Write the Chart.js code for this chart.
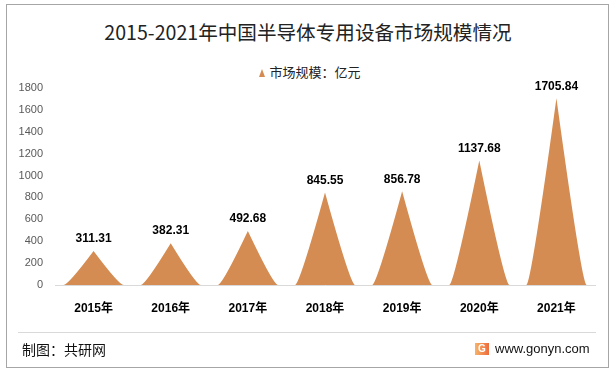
<!DOCTYPE html>
<html>
<head>
<meta charset="utf-8">
<script src="https://cdn.jsdelivr.net/npm/chart.js@4/dist/chart.umd.min.js"></script>
<style>
	html, body { margin: 0; padding: 0; background: #fff; }
	#wrap { position: relative; width: 616px; height: 373px; overflow: hidden; background: #fff; font-family: "Noto Sans CJK SC", "Liberation Sans", sans-serif; }
	#frame { position: absolute; left: 6px; top: 4px; width: 601px; height: 362px; border: 1px solid #a6a6a6; }
	#title { position: absolute; left: 0; width: 616px; top: 18px; text-align: center; font-size: 19.6px; color: #222; line-height: 28px; }
	#legend { position: absolute; left: 2px; width: 616px; top: 62px; text-align: center; font-size: 13px; color: #222; line-height: 20px; }
	#legend i { display: inline-block; width: 0; height: 0; border-left: 3px solid transparent; border-right: 3px solid transparent; border-bottom: 8px solid #D48C52; margin-right: 4px; vertical-align: 0px; }
	#sep { position: absolute; left: 18px; top: 332px; width: 578px; height: 0; border-top: 1px solid #d9d9d9; }
	#source { position: absolute; left: 22px; top: 339px; font-size: 14px; color: #111; line-height: 20px; }
	#site { position: absolute; left: 495px; top: 340px; font-family: "Liberation Sans", Arial, sans-serif; font-size: 13px; color: #111; line-height: 18px; }
	#logo { position: absolute; left: 475px; top: 343px; width: 14px; height: 12px; background: linear-gradient(90deg, #f6b36a, #ee6c3c); color: #fff; font: bold 10px "Liberation Sans", sans-serif; text-align: center; line-height: 12px; }
	canvas { position: absolute; left: 0; top: 0; }
</style>
</head>
<body>
<div id="wrap">
	<div id="frame"></div>
	<div id="title">2015-2021年中国半导体专用设备市场规模情况</div>
	<div id="legend"><i></i>市场规模：亿元</div>
	<canvas id="chart" width="616" height="373"></canvas>
	<div id="sep"></div>
	<div id="source">制图：共研网</div>
	<div id="logo">G</div>
	<div id="site">www.gonyn.com</div>
</div>
<script>
var years = ['2015年', '2016年', '2017年', '2018年', '2019年', '2020年', '2021年'];
var market_size = [311.31, 382.31, 492.68, 845.55, 856.78, 1137.68, 1705.84];
var series_name = '市场规模：亿元';
var y_ticks = [0, 200, 400, 600, 800, 1000, 1200, 1400, 1600, 1800];

var SPIKE_COLOR = '#D48C52';

// draw each bar as a pointed "spike" instead of a rectangle
var spikeBars = {
	id: 'spikeBars',
	beforeDatasetDraw: function(chart, args){
		var ctx = chart.ctx;
		var meta = args.meta;
		ctx.save();
		ctx.fillStyle = SPIKE_COLOR;
		meta.data.forEach(function(bar){
			var hw = bar.width / 2;
			var c = 0.85;
			ctx.beginPath();
			ctx.moveTo(bar.x - hw, bar.base);
			ctx.quadraticCurveTo(bar.x - hw * c, bar.base, bar.x, bar.y);
			ctx.quadraticCurveTo(bar.x + hw * c, bar.base, bar.x + hw, bar.base);
			ctx.closePath();
			ctx.fill();
		});
		ctx.restore();
		return false;
	}
};

var valueLabels = {
	id: 'valueLabels',
	afterDatasetsDraw: function(chart){
		var ctx = chart.ctx;
		var meta = chart.getDatasetMeta(0);
		ctx.save();
		ctx.font = 'bold 12px "Liberation Sans", Arial, sans-serif';
		ctx.fillStyle = '#000';
		ctx.textAlign = 'center';
		ctx.textBaseline = 'middle';
		meta.data.forEach(function(bar, i){
			ctx.fillText(market_size[i].toFixed(2), bar.x, bar.y - 12);
		});
		ctx.restore();
	}
};

new Chart(document.getElementById('chart'), {
	type: 'bar',
	data: {
		labels: years,
		datasets: [{
			label: series_name,
			data: market_size,
			backgroundColor: SPIKE_COLOR,
			barPercentage: 0.78,
			categoryPercentage: 1
		}]
	},
	options: {
		responsive: false,
		animation: false,
		devicePixelRatio: 1,
		layout: { padding: { top: 88, left: 0, right: 21, bottom: 48 } },
		plugins: {
			legend: { display: false },
			title: { display: false },
			tooltip: { enabled: false }
		},
		scales: {
			x: {
				grid: { display: false, drawTicks: false },
				border: { display: true, color: '#d9d9d9', width: 1 },
				ticks: {
					color: '#000',
					padding: 16,
					font: { family: '"Liberation Sans", "Noto Sans CJK SC", sans-serif', size: 12, weight: 'bold' }
				},
				afterFit: function(scale){ scale.height = 40; }
			},
			y: {
				min: y_ticks[0],
				max: y_ticks[y_ticks.length - 1],
				grid: { display: false, drawTicks: false },
				border: { display: false },
				afterBuildTicks: function(scale){
					scale.ticks = y_ticks.map(function(v){ return { value: v }; });
				},
				ticks: {
					color: '#595959',
					padding: 12,
					font: { family: '"Liberation Sans", Arial, sans-serif', size: 11 },
					callback: function(value){ return String(value); }
				},
				afterFit: function(scale){ scale.width = 55; }
			}
		}
	},
	plugins: [spikeBars, valueLabels]
});
</script>
</body>
</html>
